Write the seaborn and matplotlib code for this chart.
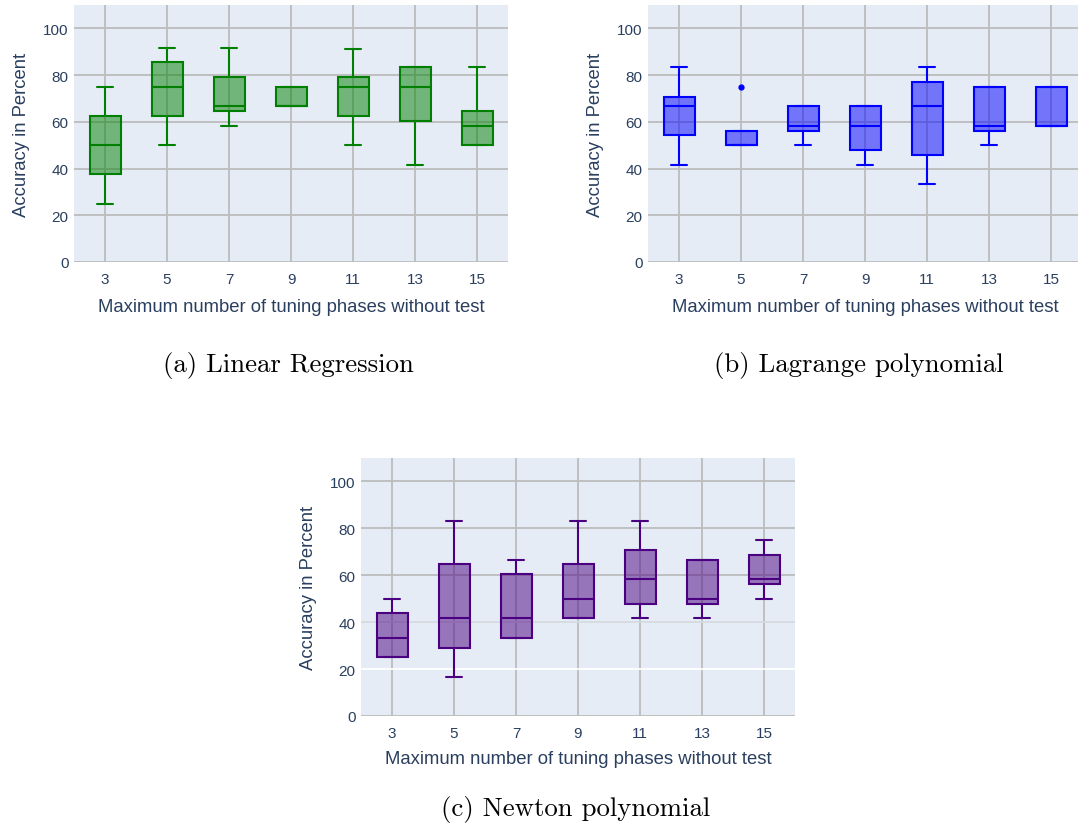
import matplotlib
matplotlib.use("Agg")
import matplotlib.pyplot as plt
import matplotlib.transforms as mtransforms
from matplotlib.colors import to_rgba
import numpy as np
import pandas as pd
import seaborn as sns

# Tuning-phase limits on the x axis
phases = ["3", "5", "7", "9", "11", "13", "15"]

# Five-number summaries per limit: whisker low, Q1, median, Q3, whisker high (or outlier)
linear_regression = [
    [25.0, 37.5, 50.0, 62.5, 75.0],
    [50.0, 62.5, 75.0, 85.4, 91.7],
    [58.3, 64.6, 66.7, 79.2, 91.7],
    [66.7, 66.7, 66.7, 75.0, 75.0],
    [50.0, 62.5, 75.0, 79.2, 91.0],
    [41.7, 60.4, 75.0, 83.3, 83.3],
    [50.0, 50.0, 58.3, 64.6, 83.3],
]
lagrange_polynomial = [
    [41.7, 54.2, 66.7, 70.8, 83.3],
    [50.0, 50.0, 50.0, 56.2, 75.0],
    [50.0, 56.2, 58.3, 66.7, 66.7],
    [41.7, 47.9, 58.3, 66.7, 66.7],
    [33.3, 45.8, 66.7, 77.1, 83.3],
    [50.0, 56.2, 58.3, 75.0, 75.0],
    [58.3, 58.3, 58.3, 75.0, 75.0],
]
newton_polynomial = [
    [25.0, 25.0, 33.3, 43.8, 50.0],
    [16.7, 29.2, 41.7, 64.6, 83.3],
    [33.3, 33.3, 41.7, 60.4, 66.7],
    [41.7, 41.7, 50.0, 64.6, 83.3],
    [41.7, 47.9, 58.3, 70.8, 83.3],
    [41.7, 47.9, 50.0, 66.7, 66.7],
    [50.0, 56.2, 58.3, 68.8, 75.0],
]

captions = ["(a) Linear Regression", "(b) Lagrange polynomial", "(c) Newton polynomial"]
xlabel = "Maximum number of tuning phases without test"
ylabel = "Accuracy in Percent"
yticks = [0, 20, 40, 60, 80, 100]

TEXT = "#2a3f5f"
GRID = "#bcbcbc"

sns.set_style("white", {"axes.facecolor": "#E5ECF6"})
plt.rcParams["font.family"] = ["Liberation Sans", "DejaVu Sans"]

W, H = 1078, 828
fig = plt.figure(figsize=(W / 100, H / 100), dpi=100)


def frame(values):
    rows = []
    for cat, vals in zip(phases, values):
        for v in vals:
            rows.append({"phases": cat, "accuracy": v})
    return pd.DataFrame(rows)


def panel(rect_px, values, color, xmax, ylabel_x, xlabel_y, grid_overrides=None):
    left, top, right, bottom = rect_px
    ax = fig.add_axes([left / W, 1 - bottom / H, (right - left) / W, (bottom - top) / H])
    df = frame(values)
    sns.boxplot(
        data=df, x="phases", y="accuracy", order=phases, ax=ax,
        color=color, linecolor=color, saturation=1, width=0.5, linewidth=1.5,
        flierprops=dict(marker="o", markersize=3.5, markerfacecolor=color,
                        markeredgecolor=color),
    )
    for p in ax.patches:
        p.set_facecolor(to_rgba(color, 0.5))
        p.set_edgecolor(color)
    ax.set_xlim(-0.5, xmax)
    ax.set_ylim(0, 110)
    ax.set_yticks(yticks)
    ax.set_axisbelow(True)
    ax.grid(True, color=GRID, linewidth=1.3)
    for s in ax.spines.values():
        s.set_visible(False)
    ax.tick_params(length=0, labelsize=11, labelcolor=TEXT)
    ax.tick_params(axis="x", pad=7)
    ax.tick_params(axis="y", pad=4)
    ax.set_xlabel(xlabel, fontsize=13.3, color=TEXT)
    ax.set_ylabel(ylabel, fontsize=13.3, color=TEXT)
    ax.yaxis.set_label_coords(ylabel_x / W, 0.5,
                              transform=mtransforms.blended_transform_factory(fig.transFigure, ax.transAxes))
    ax.xaxis.set_label_coords(0.5, 1 - xlabel_y / H,
                              transform=mtransforms.blended_transform_factory(ax.transAxes, fig.transFigure))
    if grid_overrides:
        lines = ax.yaxis.get_gridlines()
        for idx, c in grid_overrides.items():
            lines[idx].set_color(c)
    return ax


panel((74, 6, 508, 263), linear_regression, "#008000", 6.5, 30, 299)
panel((648, 6, 1082, 263), lagrange_polynomial, "#0000ff", 6.5, 604, 299)
panel((361, 459, 795, 717), newton_polynomial, "#4b0082", 6.5, 317, 751,
      grid_overrides={1: "#ffffff", 2: "#d6dae0"})

caption_pos = [(288, 365.5), (859, 365.5), (576, 810)]
for text, (x, y) in zip(captions, caption_pos):
    fig.text(x / W, 1 - y / H, text, ha="center", va="center",
             fontsize=19.3, family="cmr10", color="black")

fig.savefig("out.png", dpi=100)
